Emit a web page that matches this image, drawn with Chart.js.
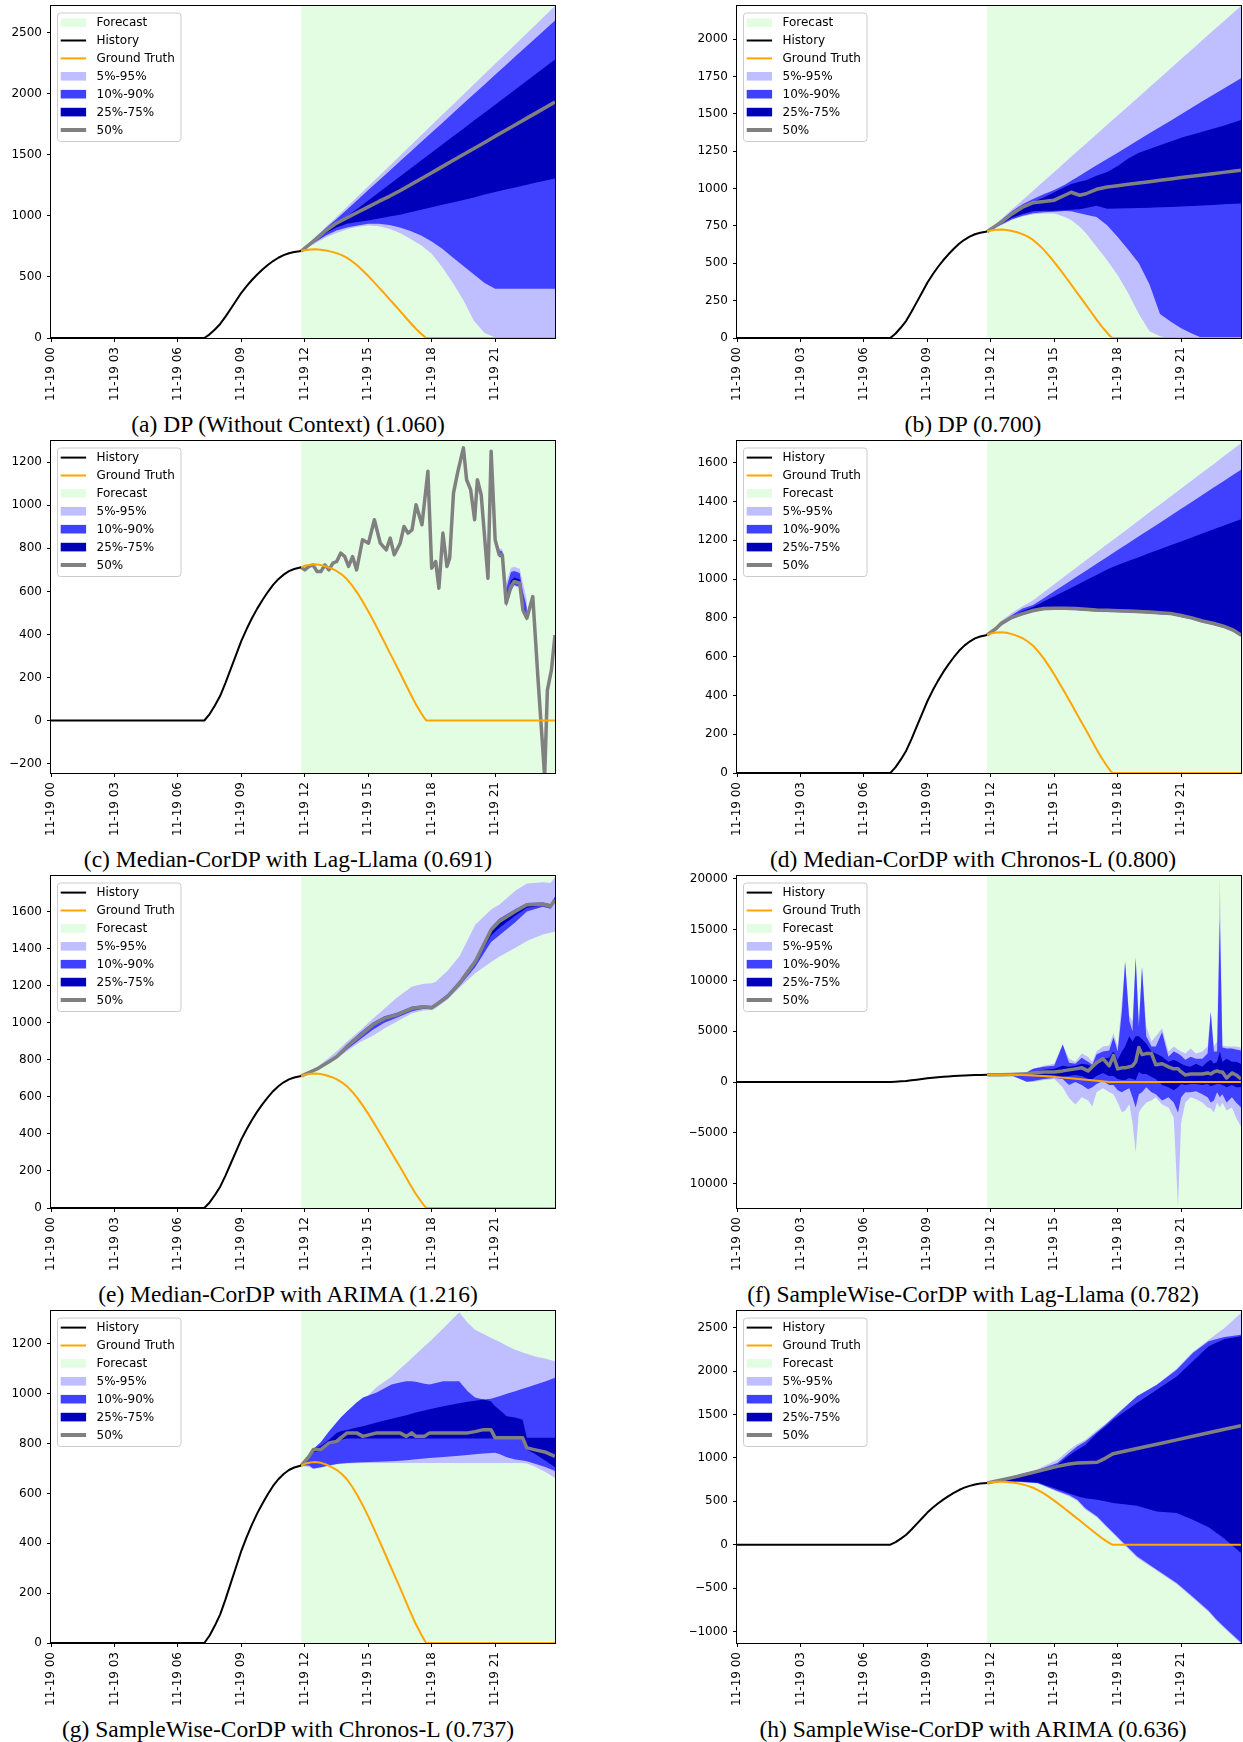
<!DOCTYPE html>
<html>
<head>
<meta charset="utf-8">
<script src="https://cdn.jsdelivr.net/npm/chart.js@4.4.0/dist/chart.umd.min.js"></script>
<style>
  html, body { margin: 0; padding: 0; background: #ffffff; }
  body { width: 1243px; height: 1742px; position: relative; overflow: hidden; }
  .panel { position: absolute; }
  .panel canvas { display: block; }
  .caption {
    position: absolute;
    font-family: "Liberation Serif", "DejaVu Serif", serif;
    font-size: 23.5px;
    color: #000;
    white-space: nowrap;
    transform: translate(-50%, -50%);
    line-height: 1;
  }
</style>
</head>
<body>
<script>
// ---------- shared series (hours after 11-19 00:00) ----------
const HIST_HOURS = [0, 7.25, 7.5, 7.75, 8, 8.25, 8.5, 8.75, 9, 9.25, 9.5, 9.75, 10, 10.25, 10.5, 10.75, 11, 11.25, 11.5, 11.83];
const HISTORY    = [0, 0, 30, 70, 115, 175, 240, 305, 370, 425, 475, 520, 560, 597, 630, 657, 678, 694, 704, 712];

const GT_HOURS     = [11.83, 12, 12.25, 12.5, 12.75, 13, 13.25, 13.5, 13.75, 14, 14.25, 14.5, 14.75, 15, 15.25, 15.5, 15.75, 16, 16.25, 16.5, 16.75, 17, 17.25, 17.5, 17.65, 17.75, 23.83];
const GROUND_TRUTH = [712, 719, 724, 726, 723, 716, 707, 695, 678, 656, 626, 591, 551, 508, 462, 415, 367, 318, 270, 222, 172, 123, 76, 35, 12, 0, 0];

const FORECAST_START = 11.83;
const X_MAX = 23.83;
const X_TICKS = [0, 3, 6, 9, 12, 15, 18, 21];
const X_TICK_LABELS = ['11-19 00', '11-19 03', '11-19 06', '11-19 09', '11-19 12', '11-19 15', '11-19 18', '11-19 21'];

// ---------- (a) DP without context ----------
const A_HOURS = [11.83, 12.5, 13, 13.5, 14, 14.5, 15, 15.5, 16, 16.5, 17, 17.5, 18, 18.5, 19, 19.5, 20, 20.5, 21, 21.5, 22, 22.5, 23, 23.83];
const A_HI95 = [712, 828, 910, 991, 1075, 1158, 1242, 1325, 1409, 1492, 1576, 1660, 1743, 1827, 1910, 1994, 2078, 2161, 2245, 2328, 2412, 2495, 2579, 2718];
const A_HI90 = [712, 820, 900, 975, 1053, 1132, 1211, 1289, 1368, 1447, 1525, 1604, 1683, 1761, 1840, 1919, 1997, 2076, 2155, 2233, 2312, 2391, 2469, 2600];
const A_HI75 = [712, 812, 885, 950, 996, 1061, 1126, 1192, 1257, 1322, 1388, 1453, 1518, 1584, 1649, 1714, 1780, 1845, 1910, 1976, 2041, 2106, 2172, 2280];
const A_MED  = [712, 806, 880, 940, 985, 1030, 1073, 1118, 1160, 1205, 1254, 1304, 1353, 1403, 1453, 1502, 1552, 1601, 1651, 1701, 1750, 1800, 1849, 1932];
const A_LO25 = [712, 795, 860, 905, 935, 950, 962, 978, 995, 1010, 1030, 1050, 1070, 1090, 1110, 1130, 1150, 1175, 1195, 1215, 1235, 1255, 1275, 1305];
const A_LO10 = [712, 785, 840, 880, 905, 920, 935, 935, 925, 905, 875, 840, 790, 730, 660, 590, 520, 450, 404, 404, 404, 404, 404, 404];
const A_LO5  = [712, 775, 825, 860, 890, 910, 922, 915, 895, 860, 810, 760, 690, 580, 450, 310, 140, 40, 5, 0, 0, 0, 0, 0];
const A_Y_RANGE = [0, 2718];
const A_Y_TICKS = [0, 500, 1000, 1500, 2000, 2500];

// ---------- (b) DP ----------
const B_HOURS = [11.83, 12.5, 13, 13.5, 14, 14.5, 15, 15.5, 15.8, 16.2, 16.5, 17, 17.5, 18, 18.5, 19, 19.5, 20, 20.5, 21, 21.5, 22, 22.5, 23, 23.83];
const B_HI95 = [712, 796, 859, 922, 985, 1048, 1111, 1174, 1212, 1262, 1300, 1363, 1426, 1488, 1551, 1614, 1677, 1740, 1803, 1866, 1929, 1992, 2055, 2117, 2221];
const B_HI90 = [712, 790, 848, 895, 930, 962, 990, 1026, 1052, 1086, 1112, 1155, 1197, 1240, 1283, 1326, 1369, 1411, 1454, 1497, 1540, 1583, 1625, 1668, 1737];
const B_HI75 = [712, 780, 835, 880, 910, 940, 975, 1010, 1030, 1045, 1055, 1085, 1110, 1150, 1200, 1240, 1265, 1290, 1315, 1340, 1360, 1380, 1400, 1420, 1458];
const B_MED  = [712, 775, 830, 875, 905, 913, 922, 955, 975, 955, 965, 995, 1010, 1019, 1028, 1037, 1046, 1055, 1064, 1073, 1082, 1090, 1099, 1108, 1123];
const B_LO25 = [712, 765, 805, 830, 848, 852, 852, 855, 858, 862, 870, 885, 865, 866, 868, 870, 872, 874, 877, 880, 883, 887, 890, 894, 900];
const B_LO10 = [712, 760, 795, 818, 835, 842, 845, 850, 848, 835, 825, 810, 755, 676, 590, 500, 360, 160, 110, 65, 30, 0, 0, 0, 0];
const B_LO5  = [712, 755, 790, 812, 828, 833, 833, 810, 790, 745, 700, 610, 520, 420, 300, 160, 45, 12, 0, 0, 0, 0, 0, 0, 0];
const B_Y_RANGE = [0, 2221];
const B_Y_TICKS = [0, 250, 500, 750, 1000, 1250, 1500, 1750, 2000];

// ---------- (c) Median-CorDP with Lag-Llama ----------
const C_MED_HOURS = [11.83, 12.0, 12.2, 12.39, 12.58, 12.76, 12.95, 13.14, 13.33, 13.51, 13.7, 13.89, 14.07, 14.26, 14.45, 14.73, 15.01, 15.29, 15.57, 15.85, 16.04, 16.23, 16.51, 16.69, 16.88, 17.07, 17.26, 17.54, 17.82, 18.0, 18.19, 18.34, 18.53, 18.72, 18.85, 19.03, 19.22, 19.5, 19.65, 19.84, 20.03, 20.16, 20.34, 20.66, 20.81, 21.0, 21.19, 21.34, 21.52, 21.75, 21.9, 22.16, 22.31, 22.5, 22.78, 23.02, 23.34, 23.47, 23.66, 23.83];
const C_MED = [712, 700, 716, 723, 692, 692, 723, 700, 731, 739, 778, 762, 716, 762, 700, 840, 824, 933, 824, 793, 848, 770, 824, 902, 871, 886, 1003, 910, 1158, 708, 739, 615, 871, 716, 754, 1057, 1150, 1267, 1119, 1073, 933, 1119, 1049, 661, 1251, 840, 770, 770, 545, 622, 646, 638, 514, 475, 576, 203, -260, 141, 234, 397];
const C_BAND_HOURS = [21.0, 21.19, 21.34, 21.52, 21.75, 21.9, 22.16, 22.31, 22.5];
const C_HI95 = [850, 800, 795, 640, 710, 715, 705, 640, 560];
const C_HI90 = [845, 790, 785, 610, 690, 695, 685, 600, 525];
const C_HI75 = [842, 778, 776, 560, 650, 665, 655, 540, 490];
const C_LO25 = [838, 765, 764, 535, 612, 638, 630, 508, 470];
const C_LO10 = [835, 760, 760, 530, 605, 630, 622, 503, 465];
const C_LO5  = [832, 756, 756, 526, 600, 625, 617, 498, 460];
const C_Y_RANGE = [-244, 1299];
const C_Y_TICKS = [-200, 0, 200, 400, 600, 800, 1000, 1200];

// ---------- (d) Median-CorDP with Chronos-L ----------
const D_HOURS = [11.83, 12.25, 12.5, 13, 13.5, 14, 14.5, 15, 15.5, 16, 16.5, 17, 17.5, 18, 18.5, 19, 19.5, 20, 20.5, 21, 21.5, 22, 22.5, 23, 23.5, 23.83];
const D_HI95 = [712, 755, 785, 825, 860, 891, 932, 973, 1014, 1056, 1097, 1138, 1179, 1220, 1261, 1302, 1344, 1385, 1426, 1467, 1508, 1549, 1590, 1632, 1673, 1700];
const D_HI90 = [712, 750, 778, 815, 848, 866, 901, 937, 972, 1008, 1043, 1079, 1114, 1150, 1185, 1221, 1256, 1291, 1327, 1362, 1398, 1433, 1469, 1504, 1540, 1564];
const D_HI75 = [712, 748, 775, 808, 835, 856, 884, 911, 939, 966, 994, 1021, 1049, 1073, 1093, 1113, 1134, 1154, 1174, 1194, 1215, 1235, 1255, 1275, 1295, 1309];
const D_MED  = [712, 745, 772, 803, 822, 838, 848, 850, 850, 848, 844, 840, 839, 837, 835, 833, 830, 826, 823, 812, 800, 784, 772, 757, 735, 711];
const D_LO25 = [712, 740, 766, 798, 818, 834, 844, 846, 846, 844, 840, 836, 835, 833, 831, 829, 826, 822, 819, 808, 796, 780, 768, 753, 731, 707];
const D_LO10 = [712, 737, 762, 795, 815, 831, 841, 843, 843, 841, 837, 833, 832, 830, 828, 826, 823, 819, 816, 805, 793, 777, 765, 750, 728, 704];
const D_LO5  = [712, 734, 758, 792, 812, 828, 838, 840, 840, 838, 834, 830, 829, 827, 825, 823, 820, 816, 813, 802, 790, 774, 762, 747, 725, 701];
const D_Y_RANGE = [0, 1712];
const D_Y_TICKS = [0, 200, 400, 600, 800, 1000, 1200, 1400, 1600];

// ---------- (e) Median-CorDP with ARIMA ----------
const E_HOURS = [11.83, 12.58, 13.14, 13.51, 14.07, 14.64, 15.2, 15.76, 16.32, 17.07, 17.63, 18.0, 18.19, 18.75, 19.32, 20.06, 20.81, 21.19, 21.94, 22.5, 23.25, 23.62, 23.83];
const E_HI95 = [712, 760, 810, 845, 905, 960, 1020, 1075, 1132, 1195, 1210, 1213, 1220, 1280, 1360, 1528, 1610, 1636, 1710, 1750, 1757, 1753, 1784];
const E_HI90 = [712, 755, 795, 822, 890, 948, 1000, 1035, 1052, 1087, 1094, 1090, 1105, 1155, 1228, 1345, 1515, 1560, 1612, 1645, 1648, 1640, 1680];
const E_HI75 = [712, 752, 792, 819, 884, 940, 993, 1029, 1047, 1082, 1090, 1085, 1100, 1148, 1220, 1337, 1508, 1553, 1606, 1640, 1644, 1633, 1670];
const E_MED  = [712, 750, 789, 816, 879, 933, 987, 1023, 1041, 1077, 1086, 1080, 1095, 1141, 1213, 1330, 1501, 1546, 1600, 1636, 1640, 1627, 1663];
const E_LO25 = [712, 748, 786, 812, 872, 924, 978, 1015, 1034, 1070, 1080, 1075, 1090, 1134, 1205, 1320, 1470, 1510, 1575, 1620, 1632, 1620, 1655];
const E_LO10 = [712, 745, 783, 808, 862, 912, 960, 1000, 1025, 1062, 1075, 1072, 1085, 1130, 1198, 1300, 1435, 1470, 1540, 1600, 1625, 1615, 1650];
const E_LO5  = [712, 742, 778, 805, 852, 897, 928, 968, 1003, 1050, 1066, 1068, 1078, 1125, 1190, 1267, 1327, 1355, 1402, 1440, 1475, 1485, 1492];
const E_Y_RANGE = [0, 1791];
const E_Y_TICKS = [0, 200, 400, 600, 800, 1000, 1200, 1400, 1600];

// ---------- (f) SampleWise-CorDP with Lag-Llama ----------
const F_HOURS = [11.83, 12.5, 13.0, 13.7, 14.0, 14.5, 15.0, 15.4, 15.7, 16.0, 16.3, 16.6, 16.8, 17.0, 17.3, 17.6, 17.8, 18.0, 18.2, 18.35, 18.55, 18.7, 18.85, 19.0, 19.15, 19.35, 19.6, 19.8, 20.1, 20.4, 20.65, 20.85, 21.0, 21.2, 21.45, 21.7, 22.0, 22.25, 22.4, 22.55, 22.7, 22.83, 22.95, 23.15, 23.4, 23.6, 23.83];
const F_HI95 = [712, 850, 900, 1000, 1300, 1600, 1800, 3700, 2300, 2000, 2800, 2500, 2000, 3000, 3500, 3600, 4800, 3500, 8000, 12000, 6500, 6000, 12300, 6000, 11400, 5500, 4000, 4500, 5300, 3000, 3500, 3200, 3000, 2800, 3300, 2800, 3000, 3500, 7000, 3500, 4000, 20100, 3600, 3500, 3500, 3500, 3400];
const F_HI90 = [712, 800, 850, 950, 1300, 1500, 1600, 3700, 1900, 1800, 2400, 2000, 1700, 2700, 3000, 3100, 4400, 3000, 7000, 11800, 6000, 5000, 12200, 5500, 11300, 4500, 3500, 3500, 4900, 2500, 3000, 2800, 2600, 2200, 2500, 2300, 2300, 2800, 6900, 3000, 3000, 16000, 3400, 3300, 3300, 3200, 3100];
const F_HI75 = [712, 760, 800, 850, 1000, 1200, 1300, 1600, 1500, 1600, 1800, 1700, 1500, 2000, 2300, 2400, 3000, 2200, 3000, 3500, 4500, 4000, 4500, 4500, 4200, 3800, 3000, 2800, 2500, 2000, 2200, 2000, 1800, 1600, 1500, 1800, 1500, 2000, 2200, 1800, 2000, 3000, 2000, 2300, 2000, 2000, 1800];
const F_MED  = [712, 720, 750, 800, 900, 1000, 1000, 1100, 1200, 1300, 1400, 1100, 1500, 1900, 2300, 1600, 2600, 1300, 1400, 1400, 1500, 1600, 2000, 3400, 2700, 2800, 2800, 1700, 1800, 1500, 1300, 1300, 1000, 700, 800, 800, 800, 900, 800, 1000, 1100, 1000, 1000, 400, 900, 700, 300];
const F_LO25 = [712, 690, 700, 650, 600, 700, 700, 500, 600, 700, 600, 300, 300, 600, 900, 600, 600, 300, 200, 200, 400, 300, 200, 1000, 800, 800, 500, 300, -300, -500, -800, -500, -200, -300, -200, -200, -300, -200, -400, -300, -200, -200, -300, -500, -300, -500, -500];
const F_LO10 = [712, 650, 650, 30, 100, 300, 400, 300, -300, 0, -300, -700, -500, -200, 100, -300, -300, -800, -1000, -800, -600, -1500, -2500, -1200, -1000, -500, -1000, -1200, -1800, -1500, -2000, -3000, -1500, -1000, -1000, -900, -1200, -1500, -2000, -1800, -1000, -1500, -1200, -2000, -1500, -2000, -2500];
const F_LO5  = [712, 600, 600, 0, 0, 200, 300, -500, -1600, -2200, -1500, -1800, -2400, -1000, -600, -1000, -1200, -2000, -3000, -2800, -2200, -4000, -6900, -3000, -2500, -2000, -1800, -1500, -2200, -2500, -3500, -12200, -4000, -2000, -1500, -1700, -2000, -2500, -2600, -3000, -2000, -2500, -2000, -2800, -2500, -3500, -4400];
const F_Y_RANGE = [-12384, 20266];
const F_Y_TICKS = [-10000, -5000, 0, 5000, 10000, 15000, 20000];

// ---------- (g) SampleWise-CorDP with Chronos-L ----------
const G_HOURS = [11.83, 12.2, 12.4, 12.75, 13.15, 13.5, 13.7, 14.0, 14.45, 14.75, 15.4, 16.1, 16.5, 16.8, 17.05, 17.25, 17.65, 17.9, 18.55, 19.3, 19.7, 20.05, 20.45, 20.8, 21.0, 21.2, 21.55, 21.95, 22.3, 22.5, 22.85, 23.4, 23.83];
const G_HI95 = [712, 755, 775, 800, 835, 865, 882, 906, 945, 972, 1027, 1068, 1100, 1122, 1142, 1158, 1190, 1209, 1263, 1327, 1285, 1257, 1240, 1225, 1217, 1209, 1193, 1177, 1166, 1160, 1150, 1140, 1130];
const G_HI90 = [712, 752, 778, 805, 850, 885, 905, 930, 965, 985, 1005, 1037, 1045, 1050, 1050, 1048, 1040, 1037, 1050, 1050, 1010, 985, 977, 980, 985, 990, 1000, 1010, 1020, 1025, 1035, 1050, 1064];
const G_HI75 = [712, 750, 777, 790, 815, 843, 850, 855, 865, 870, 885, 900, 908, 914, 920, 925, 933, 938, 950, 962, 968, 972, 977, 970, 950, 936, 910, 905, 896, 823, 823, 823, 823];
const G_MED  = [712, 749, 776, 776, 803, 809, 823, 843, 843, 829, 843, 843, 843, 829, 843, 829, 829, 843, 843, 843, 843, 848, 856, 856, 823, 823, 823, 823, 823, 783, 776, 765, 749];
const G_LO25 = [712, 745, 765, 770, 795, 805, 815, 820, 820, 820, 820, 820, 820, 820, 820, 820, 820, 820, 820, 820, 820, 820, 820, 820, 820, 820, 820, 820, 820, 775, 760, 730, 705];
const G_LO10 = [712, 712, 700, 705, 712, 718, 720, 722, 724, 725, 727, 729, 731, 733, 735, 737, 740, 742, 746, 751, 754, 757, 760, 762, 763, 758, 745, 736, 732, 729, 720, 705, 690];
const G_LO5  = [712, 705, 698, 702, 712, 716, 718, 720, 721, 722, 722, 722, 722, 722, 722, 722, 722, 722, 722, 722, 722, 722, 722, 722, 722, 722, 722, 722, 722, 720, 709, 685, 662];
const G_Y_RANGE = [0, 1332];
const G_Y_TICKS = [0, 200, 400, 600, 800, 1000, 1200];

// ---------- (h) SampleWise-CorDP with ARIMA ----------
const H_HOURS = [11.83, 12.5, 13.27, 14.21, 15.15, 15.71, 16.09, 16.47, 17.03, 17.41, 17.78, 18.91, 19.85, 20.79, 21.55, 22.3, 22.68, 23.05, 23.83];
const H_HI95 = [712, 755, 810, 870, 979, 1094, 1160, 1210, 1320, 1390, 1470, 1709, 1843, 2030, 2220, 2362, 2430, 2496, 2669];
const H_HI90 = [712, 752, 803, 862, 941, 1060, 1133, 1190, 1300, 1380, 1460, 1709, 1843, 2016, 2208, 2343, 2370, 2393, 2419];
const H_HI75 = [712, 750, 795, 850, 922, 1030, 1094, 1150, 1286, 1360, 1440, 1632, 1786, 1939, 2112, 2285, 2330, 2370, 2400];
const H_MED  = [712, 745, 787, 845, 902, 930, 942, 945, 950, 995, 1048, 1108, 1158, 1208, 1249, 1289, 1310, 1329, 1371];
const H_LO25 = [712, 728, 730, 718, 640, 590, 557, 535, 518, 500, 480, 449, 384, 365, 288, 200, 134, 70, -96];
const H_LO10 = [712, 725, 726, 712, 620, 570, 518, 420, 326, 230, 140, -134, -288, -442, -600, -760, -864, -950, -1125];
const H_LO5  = [712, 722, 722, 705, 610, 555, 505, 405, 310, 215, 125, -150, -300, -455, -615, -775, -880, -965, -1140];
const H_Y_RANGE = [-1132, 2692];
const H_Y_TICKS = [-1000, -500, 0, 500, 1000, 1500, 2000, 2500];

// ---------- captions and legend orders ----------
const CAPTIONS = [
  '(a) DP (Without Context) (1.060)',
  '(b) DP (0.700)',
  '(c) Median-CorDP with Lag-Llama (0.691)',
  '(d) Median-CorDP with Chronos-L (0.800)',
  '(e) Median-CorDP with ARIMA (1.216)',
  '(f) SampleWise-CorDP with Lag-Llama (0.782)',
  '(g) SampleWise-CorDP with Chronos-L (0.737)',
  '(h) SampleWise-CorDP with ARIMA (0.636)'
];
const LEGEND_ORDER_DP = ['Forecast', 'History', 'Ground Truth', '5%-95%', '10%-90%', '25%-75%', '50%'];
const LEGEND_ORDER_CORDP = ['History', 'Ground Truth', 'Forecast', '5%-95%', '10%-90%', '25%-75%', '50%'];

// ---------- styling ----------
const ORANGE = '#ffa500';
const GRAY = '#808080';
const FORECAST_GREEN = 'rgb(227,253,227)';
const BAND_LIGHT = 'rgb(191,191,255)';
const BAND_MID = 'rgb(64,64,255)';
const BAND_DARK = 'rgb(0,0,187)';
const TICK_FONT = { family: 'DejaVu Sans', size: 12 };

const LEGEND_STYLE = {
  'Forecast':     { kind: 'patch', color: FORECAST_GREEN },
  'History':      { kind: 'line', color: '#000000', width: 2 },
  'Ground Truth': { kind: 'line', color: ORANGE, width: 2 },
  '5%-95%':       { kind: 'patch', color: BAND_LIGHT },
  '10%-90%':      { kind: 'patch', color: BAND_MID },
  '25%-75%':      { kind: 'patch', color: BAND_DARK },
  '50%':          { kind: 'line', color: GRAY, width: 4 }
};

// page geometry: two columns, four rows of axes
const COL_CANVAS_LEFT = [0, 690];
const COL_YAXIS_W = [51, 47];
const COL_PAD_RIGHT = [10, 2];
const COL_CAPTION_X = [288, 973];
const ROW_PLOT_TOP = [6, 441, 876, 1311];
const PLOT_W = 504, PLOT_H = 332, PAD_TOP = 6, XAXIS_H = 70;

// ---------- assemble panel descriptions ----------
const PANELS = [
  { bandHours: A_HOURS, medHours: A_HOURS, med: A_MED, lo5: A_LO5, hi95: A_HI95, lo10: A_LO10, hi90: A_HI90, lo25: A_LO25, hi75: A_HI75, yRange: A_Y_RANGE, yTicks: A_Y_TICKS, legend: LEGEND_ORDER_DP },
  { bandHours: B_HOURS, medHours: B_HOURS, med: B_MED, lo5: B_LO5, hi95: B_HI95, lo10: B_LO10, hi90: B_HI90, lo25: B_LO25, hi75: B_HI75, yRange: B_Y_RANGE, yTicks: B_Y_TICKS, legend: LEGEND_ORDER_DP },
  { bandHours: C_BAND_HOURS, medHours: C_MED_HOURS, med: C_MED, lo5: C_LO5, hi95: C_HI95, lo10: C_LO10, hi90: C_HI90, lo25: C_LO25, hi75: C_HI75, yRange: C_Y_RANGE, yTicks: C_Y_TICKS, legend: LEGEND_ORDER_CORDP },
  { bandHours: D_HOURS, medHours: D_HOURS, med: D_MED, lo5: D_LO5, hi95: D_HI95, lo10: D_LO10, hi90: D_HI90, lo25: D_LO25, hi75: D_HI75, yRange: D_Y_RANGE, yTicks: D_Y_TICKS, legend: LEGEND_ORDER_CORDP },
  { bandHours: E_HOURS, medHours: E_HOURS, med: E_MED, lo5: E_LO5, hi95: E_HI95, lo10: E_LO10, hi90: E_HI90, lo25: E_LO25, hi75: E_HI75, yRange: E_Y_RANGE, yTicks: E_Y_TICKS, legend: LEGEND_ORDER_CORDP },
  { bandHours: F_HOURS, medHours: F_HOURS, med: F_MED, lo5: F_LO5, hi95: F_HI95, lo10: F_LO10, hi90: F_HI90, lo25: F_LO25, hi75: F_HI75, yRange: F_Y_RANGE, yTicks: F_Y_TICKS, legend: LEGEND_ORDER_CORDP },
  { bandHours: G_HOURS, medHours: G_HOURS, med: G_MED, lo5: G_LO5, hi95: G_HI95, lo10: G_LO10, hi90: G_HI90, lo25: G_LO25, hi75: G_HI75, yRange: G_Y_RANGE, yTicks: G_Y_TICKS, legend: LEGEND_ORDER_CORDP },
  { bandHours: H_HOURS, medHours: H_HOURS, med: H_MED, lo5: H_LO5, hi95: H_HI95, lo10: H_LO10, hi90: H_HI90, lo25: H_LO25, hi75: H_HI75, yRange: H_Y_RANGE, yTicks: H_Y_TICKS, legend: LEGEND_ORDER_CORDP }
];

function xy(hours, values) {
  return hours.map((h, i) => ({ x: h, y: values[i] }));
}
function fmtY(v) {
  return String(v).replace('-', '\u2212');
}

// forecast shading, axes frame and an in-axes legend box
const axesDecor = {
  id: 'axesDecor',
  beforeDraw(chart, args, opts) {
    const { ctx, chartArea: a, scales } = chart;
    const x0 = scales.x.getPixelForValue(opts.forecastStart);
    ctx.save();
    ctx.fillStyle = FORECAST_GREEN;
    ctx.fillRect(x0, a.top, a.right - x0, a.bottom - a.top);
    ctx.restore();
  },
  afterDatasetsDraw(chart) {
    const { ctx, chartArea: a } = chart;
    ctx.save();
    ctx.strokeStyle = '#000000';
    ctx.lineWidth = 1;
    ctx.strokeRect(Math.round(a.left) - 0.5, Math.round(a.top) - 0.5,
                   Math.round(a.right - a.left) + 1, Math.round(a.bottom - a.top) + 1);
    ctx.restore();
  },
  afterDraw(chart, args, opts) {
    const { ctx, chartArea: a } = chart;
    const lx = a.left + 6.5, ly = a.top + 7, lw = 123.5, lh = 128.5, r = 3;
    ctx.save();
    ctx.beginPath();
    ctx.moveTo(lx + r, ly);
    ctx.arcTo(lx + lw, ly, lx + lw, ly + lh, r);
    ctx.arcTo(lx + lw, ly + lh, lx, ly + lh, r);
    ctx.arcTo(lx, ly + lh, lx, ly, r);
    ctx.arcTo(lx, ly, lx + lw, ly, r);
    ctx.closePath();
    ctx.fillStyle = 'rgba(255,255,255,0.8)';
    ctx.fill();
    ctx.strokeStyle = '#cccccc';
    ctx.lineWidth = 1;
    ctx.stroke();
    ctx.font = '12px "DejaVu Sans"';
    ctx.textBaseline = 'middle';
    opts.items.forEach((label, i) => {
      const cy = ly + 9.6 + i * 17.9;
      const st = LEGEND_STYLE[label];
      if (st.kind === 'line') {
        ctx.strokeStyle = st.color;
        ctx.lineWidth = st.width;
        ctx.beginPath();
        ctx.moveTo(lx + 3.2, cy);
        ctx.lineTo(lx + 28.6, cy);
        ctx.stroke();
      } else {
        ctx.fillStyle = st.color;
        ctx.fillRect(lx + 3.2, cy - 4.3, 25.4, 8.6);
      }
      ctx.fillStyle = '#000000';
      ctx.fillText(label, lx + 39, cy + 0.5);
    });
    ctx.restore();
  }
};

function buildDatasets(p) {
  const common = { pointRadius: 0, tension: 0, clip: 0, borderJoinStyle: 'round' };
  const ds = [];
  ds.push(Object.assign({ label: 'Ground Truth', data: xy(GT_HOURS, GROUND_TRUTH), borderColor: ORANGE, borderWidth: 2, fill: false, order: 0 }, common));
  ds.push(Object.assign({ label: 'History', data: xy(HIST_HOURS, HISTORY), borderColor: '#000000', borderWidth: 2, fill: false, order: 1 }, common));
  ds.push(Object.assign({ label: '50%', data: xy(p.medHours, p.med), borderColor: GRAY, borderWidth: 3.5, fill: false, order: 2 }, common));
  const bands = [
    ['25%-75%', p.hi75, p.lo25, BAND_DARK, 3],
    ['10%-90%', p.hi90, p.lo10, BAND_MID, 5],
    ['5%-95%', p.hi95, p.lo5, BAND_LIGHT, 7]
  ];
  bands.forEach(([label, hi, lo, color, ord]) => {
    const lowerIndex = ds.length + 1;
    ds.push(Object.assign({ label: label, data: xy(p.bandHours, hi), borderWidth: 0, borderColor: 'transparent', backgroundColor: color, fill: lowerIndex, order: ord }, common));
    ds.push(Object.assign({ label: label + ' lower', data: xy(p.bandHours, lo), borderWidth: 0, borderColor: 'transparent', fill: false, order: ord + 1 }, common));
  });
  return ds;
}

PANELS.forEach((p, idx) => {
  const col = idx % 2, row = Math.floor(idx / 2);
  const yAxisW = COL_YAXIS_W[col];
  const canvasW = yAxisW + PLOT_W + COL_PAD_RIGHT[col];
  const canvasH = PAD_TOP + PLOT_H + XAXIS_H;
  const holder = document.createElement('div');
  holder.className = 'panel';
  holder.style.left = COL_CANVAS_LEFT[col] + 'px';
  holder.style.top = (ROW_PLOT_TOP[row] - PAD_TOP) + 'px';
  holder.style.width = canvasW + 'px';
  holder.style.height = canvasH + 'px';
  const canvas = document.createElement('canvas');
  canvas.width = canvasW;
  canvas.height = canvasH;
  canvas.style.width = canvasW + 'px';
  canvas.style.height = canvasH + 'px';
  holder.appendChild(canvas);
  document.body.appendChild(holder);

  const cap = document.createElement('div');
  cap.className = 'caption';
  cap.style.left = COL_CAPTION_X[col] + 'px';
  cap.style.top = (ROW_PLOT_TOP[row] + 418.5) + 'px';
  cap.textContent = CAPTIONS[idx];
  document.body.appendChild(cap);

  new Chart(canvas.getContext('2d'), {
    type: 'line',
    data: { datasets: buildDatasets(p) },
    plugins: [axesDecor],
    options: {
      responsive: false,
      animation: false,
      devicePixelRatio: 1,
      events: [],
      layout: { padding: { top: PAD_TOP, right: COL_PAD_RIGHT[col], left: 0, bottom: 0 } },
      plugins: {
        legend: { display: false },
        tooltip: { enabled: false },
        title: { display: false },
        colors: { enabled: false },
        axesDecor: { forecastStart: FORECAST_START, items: p.legend }
      },
      scales: {
        x: {
          type: 'linear',
          min: 0,
          max: X_MAX,
          afterBuildTicks: s => { s.ticks = X_TICKS.map(v => ({ value: v })); },
          afterFit: s => { s.height = XAXIS_H; s.paddingLeft = 0; s.paddingRight = 0; },
          ticks: {
            autoSkip: false, minRotation: 90, maxRotation: 90, padding: 5,
            color: '#000000', font: TICK_FONT,
            callback: v => X_TICK_LABELS[X_TICKS.indexOf(v)]
          },
          grid: { display: true, drawOnChartArea: false, drawTicks: true, tickLength: 4, tickWidth: 1, tickColor: '#000000' },
          border: { display: false }
        },
        y: {
          type: 'linear',
          min: p.yRange[0],
          max: p.yRange[1],
          afterBuildTicks: s => { s.ticks = p.yTicks.map(v => ({ value: v })); },
          afterFit: s => { s.width = yAxisW; s.paddingTop = 0; s.paddingBottom = 0; },
          ticks: {
            autoSkip: false, padding: 5, color: '#000000', font: TICK_FONT,
            callback: v => fmtY(v)
          },
          grid: { display: true, drawOnChartArea: false, drawTicks: true, tickLength: 4, tickWidth: 1, tickColor: '#000000' },
          border: { display: false }
        }
      }
    }
  });
});
</script>
</body>
</html>
